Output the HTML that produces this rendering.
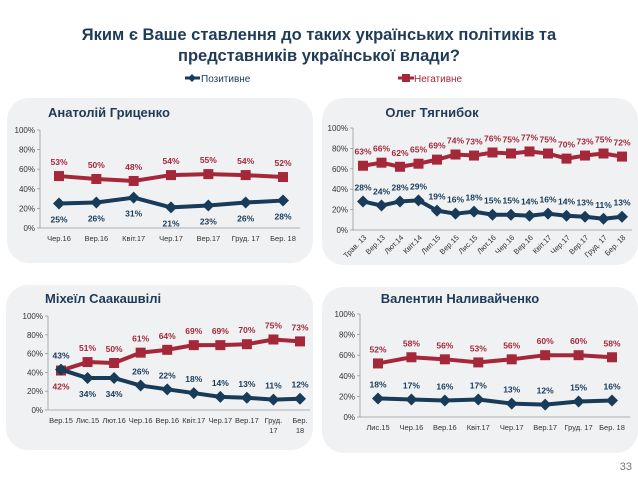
<!DOCTYPE html>
<html><head><meta charset="utf-8">
<style>
body{margin:0;width:638px;height:479px;background:#fff;overflow:hidden;font-family:"Liberation Sans","DejaVu Sans",sans-serif;}
svg{position:absolute;left:0;top:0}
</style></head>
<body>
<svg id="c" width="638" height="479" xmlns="http://www.w3.org/2000/svg">
<text x="319" y="40" text-anchor="middle" font-size="16.5" font-weight="bold" fill="#1f3b57">Яким є Ваше ставлення до таких українських політиків та</text>
<text x="319" y="61" text-anchor="middle" font-size="16.5" font-weight="bold" fill="#1f3b57">представників української влади?</text>
<g>
<line x1="185" y1="78" x2="200" y2="78" stroke="#173b58" stroke-width="3"/>
<path d="M192,74 L196,78 L192,82 L188,78Z" fill="#173b58"/>
<text x="201" y="82" font-size="10" fill="#173b58">Позитивне</text></g>
<g>
<line x1="398" y1="78" x2="414" y2="78" stroke="#a5283a" stroke-width="3"/>
<rect x="402" y="74" width="8" height="8" fill="#a5283a"/>
<text x="414" y="82" font-size="10" fill="#a5283a">Негативне</text></g>
<text x="632" y="470" text-anchor="end" font-size="11" fill="#777">33</text>
</svg>
<script>
// Panel 1: Гриценко
const cats1=["Чер.16","Вер.16","Квіт.17","Чер.17","Вер.17","Груд. 17","Бер. 18"];
const pos1=[25,26,31,21,23,26,28];
const neg1=[53,50,48,54,55,54,52];
// Panel 2: Тягнибок
const cats2=["Трав. 13","Вер.13","Лют.14","Квіт.14","Лип.15","Вер.15","Лис.15","Лют.16","Чер.16","Вер.16","Квіт.17","Чер.17","Вер.17","Груд. 17","Бер. 18"];
const pos2=[28,24,28,29,19,16,18,15,15,14,16,14,13,11,13];
const neg2=[63,66,62,65,69,74,73,76,75,77,75,70,73,75,72];
// Panel 3: Саакашвілі
const cats3=["Вер.15","Лис.15","Лют.16","Чер.16","Вер.16","Квіт.17","Чер.17","Вер.17","Груд.|17","Бер.|18"];
const pos3=[43,34,34,26,22,18,14,13,11,12];
const neg3=[42,51,50,61,64,69,69,70,75,73];
// Panel 4: Наливайченко
const cats4=["Лис.15","Чер.16","Вер.16","Квіт.17","Чер.17","Вер.17","Груд. 17","Бер. 18"];
const pos4=[18,17,16,17,13,12,15,16];
const neg4=[52,58,56,53,56,60,60,58];
const yTicks=[0,20,40,60,80,100];

const NS="http://www.w3.org/2000/svg";
const svg=document.getElementById('c');
function mk(tag,attrs,parent){const e=document.createElementNS(NS,tag);for(const k in attrs)e.setAttribute(k,attrs[k]);(parent||svg).appendChild(e);return e;}
const BLUE="#173b58",RED="#a5283a";

function panel(cfg,cats,pos,neg,slug){
  const g=mk('g',{});
  
  
  const bg=mk('rect',{x:cfg.bx,y:cfg.by,width:cfg.bw,height:cfg.bh,rx:22,fill:'#f0f1f3'},g);
  
  
  const t=mk('text',{x:cfg.tx,y:cfg.ty,'font-size':13,'font-weight':'bold',fill:'#1f3b57','text-anchor':cfg.tanchor||'start'},g);
  t.textContent=cfg.title;
  
  
  const yS=v=>cfg.y0-(cfg.y0-cfg.y100)*v/100;
  const n=cats.length;
  const xS=i=>cfg.x0+(cfg.x1-cfg.x0)*i/(n-1);
  const ax=mk('line',{x1:cfg.ax,y1:cfg.y100,x2:cfg.ax,y2:cfg.y0,stroke:'#999','stroke-width':0.8},g);
  
  
  const bx=mk('line',{x1:cfg.ax,y1:cfg.y0,x2:cfg.axEnd,y2:cfg.y0,stroke:'#999','stroke-width':0.8},g);
  
  
  yTicks.forEach(v=>{
    mk('line',{x1:cfg.ax-3,y1:yS(v),x2:cfg.ax,y2:yS(v),stroke:'#999','stroke-width':0.8},g);
    const l=mk('text',{x:cfg.ax-5,y:yS(v)+3,'font-size':8,fill:'#333','text-anchor':'end'},g);
    l.textContent=v+'%';
    
    
  });
  cats.forEach((c,i)=>{
    const x=xS(i);
    if(cfg.rot){
      const l=mk('text',{x:x+4,y:cfg.y0+8,'font-size':7.5,fill:'#333','text-anchor':'end',transform:`rotate(-45 ${x+4} ${cfg.y0+8})`},g);
      l.textContent=c;
      
      
    } else {
      c.split('|').forEach((p,k)=>{
        const l=mk('text',{x:x,y:cfg.y0+13+k*10,'font-size':7.5,fill:'#333','text-anchor':'middle'},g);
        l.textContent=p;
        
        
      });
    }
  });
  [[neg,RED,'negative'],[pos,BLUE,'positive']].forEach(([vals,col,nm])=>{
    const pl=mk('polyline',{points:vals.map((v,i)=>xS(i)+','+yS(v)).join(' '),fill:'none',stroke:col,'stroke-width':4,'stroke-linejoin':'round'},g);
    
    
    vals.forEach((v,i)=>{
      const x=xS(i),y=yS(v);
      let m;
      if(nm==='negative') m=mk('rect',{x:x-5,y:y-5,width:10,height:10,fill:col},g);
      else m=mk('path',{d:`M${x},${y-6} L${x+6},${y} L${x},${y+6} L${x-6},${y}Z`,fill:col},g);
      
      
      const below=cfg.below(nm,i);
      const l=mk('text',{x:x,y:below?y+19:y-11,'font-size':8.5,'font-weight':'bold',fill:col,'text-anchor':'middle'},g);
      l.textContent=v+'%';
      
      
    });
  });
}

panel({bx:7,by:98,bw:306,bh:165,tx:48,ty:117,title:'Анатолій Гриценко',ax:40,axEnd:300,y0:228,y100:130,x0:59,x1:283,below:(nm)=>nm==='positive'},cats1,pos1,neg1,'hrytsenko');
panel({bx:322,by:98,bw:316,bh:167,tx:432,ty:117,tanchor:'middle',title:'Олег Тягнибок',ax:353,axEnd:632,y0:230,y100:128,x0:363,x1:622,rot:true,below:()=>false},cats2,pos2,neg2,'tyahnybok');
panel({bx:6,by:285,bw:307,bh:165,tx:45,ty:303,title:'Міхеїл Саакашвілі',ax:48,axEnd:310,y0:410,y100:316,x0:61,x1:300,below:(nm,i)=>(nm==='negative'&&i===0)||(nm==='positive'&&(i===1||i===2))},cats3,pos3,neg3,'saakashvili');
panel({bx:322,by:287,bw:316,bh:166,tx:460,ty:303,tanchor:'middle',title:'Валентин Наливайченко',ax:360,axEnd:630,y0:417,y100:314,x0:378,x1:612,below:()=>false},cats4,pos4,neg4,'nalyvaichenko');
</script>
</body></html>
